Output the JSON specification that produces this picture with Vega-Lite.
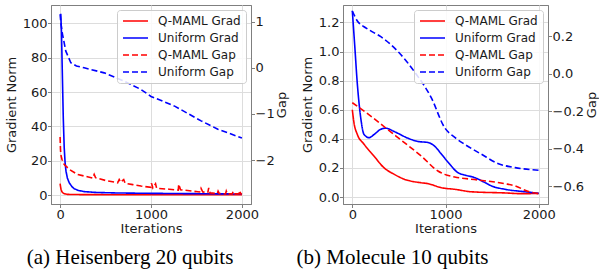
{
  "$schema": "https://vega.github.io/schema/vega-lite/v6.json",
  "padding": {"left": 4, "top": 4, "right": 0, "bottom": 0},
  "background": "white",
  "config": {
    "font": "DejaVu Sans",
    "view": {"stroke": "#7f7f7f", "strokeWidth": 1},
    "axis": {"domainColor": "#7f7f7f", "tickColor": "#7f7f7f", "labelColor": "#1a1a1a", "titleColor": "#1a1a1a", "labelFontSize": 13, "titleFontSize": 13, "titleFontWeight": "normal", "gridColor": "#dddddd", "tickSize": 3.5, "labelPadding": 0.5, "titlePadding": 4},
    "axisX": {"titlePadding": 1},
    "legend": {"orient": "top-right", "offset": 5, "fillColor": "rgba(255,255,255,0.85)", "strokeColor": "#cccccc", "cornerRadius": 3, "padding": 5, "labelFontSize": 12, "labelColor": "#1a1a1a", "symbolType": "M-1,0H4", "symbolSize": 100, "symbolStrokeWidth": 1.8, "labelOffset": 24, "rowPadding": 5},
    "line": {"strokeWidth": 1.6}
  },
  "datasets": {
    "a_grad": [
      {"series": "Q-MAML Grad", "iter": 0, "value": 6.7},
      {"series": "Q-MAML Grad", "iter": 5, "value": 5},
      {"series": "Q-MAML Grad", "iter": 10, "value": 3.5},
      {"series": "Q-MAML Grad", "iter": 20, "value": 2},
      {"series": "Q-MAML Grad", "iter": 35, "value": 1.2},
      {"series": "Q-MAML Grad", "iter": 50, "value": 0.8},
      {"series": "Q-MAML Grad", "iter": 80, "value": 0.5},
      {"series": "Q-MAML Grad", "iter": 150, "value": 0.4},
      {"series": "Q-MAML Grad", "iter": 300, "value": 0.35},
      {"series": "Q-MAML Grad", "iter": 600, "value": 0.3},
      {"series": "Q-MAML Grad", "iter": 1000, "value": 0.3},
      {"series": "Q-MAML Grad", "iter": 1500, "value": 0.3},
      {"series": "Q-MAML Grad", "iter": 2000, "value": 0.3},
      {"series": "Uniform Grad", "iter": 0, "value": 105},
      {"series": "Uniform Grad", "iter": 8, "value": 105},
      {"series": "Uniform Grad", "iter": 15, "value": 95},
      {"series": "Uniform Grad", "iter": 25, "value": 70},
      {"series": "Uniform Grad", "iter": 35, "value": 45},
      {"series": "Uniform Grad", "iter": 45, "value": 28},
      {"series": "Uniform Grad", "iter": 55, "value": 19},
      {"series": "Uniform Grad", "iter": 65, "value": 14},
      {"series": "Uniform Grad", "iter": 80, "value": 10},
      {"series": "Uniform Grad", "iter": 100, "value": 7.3},
      {"series": "Uniform Grad", "iter": 130, "value": 5},
      {"series": "Uniform Grad", "iter": 155, "value": 3.8},
      {"series": "Uniform Grad", "iter": 200, "value": 2.8},
      {"series": "Uniform Grad", "iter": 265, "value": 2.1},
      {"series": "Uniform Grad", "iter": 400, "value": 1.6},
      {"series": "Uniform Grad", "iter": 632, "value": 1.3},
      {"series": "Uniform Grad", "iter": 1000, "value": 1.1},
      {"series": "Uniform Grad", "iter": 1500, "value": 0.9},
      {"series": "Uniform Grad", "iter": 2000, "value": 0.7}
    ],
    "a_gap": [
      {"series": "Q-MAML Gap", "iter": 0, "value": -1.5},
      {"series": "Q-MAML Gap", "iter": 4, "value": -1.75},
      {"series": "Q-MAML Gap", "iter": 8, "value": -1.88},
      {"series": "Q-MAML Gap", "iter": 20, "value": -1.98},
      {"series": "Q-MAML Gap", "iter": 44, "value": -2.09},
      {"series": "Q-MAML Gap", "iter": 100, "value": -2.2},
      {"series": "Q-MAML Gap", "iter": 192, "value": -2.31},
      {"series": "Q-MAML Gap", "iter": 300, "value": -2.36},
      {"series": "Q-MAML Gap", "iter": 360, "value": -2.39},
      {"series": "Q-MAML Gap", "iter": 375, "value": -2.31},
      {"series": "Q-MAML Gap", "iter": 390, "value": -2.38},
      {"series": "Q-MAML Gap", "iter": 500, "value": -2.44},
      {"series": "Q-MAML Gap", "iter": 633, "value": -2.49},
      {"series": "Q-MAML Gap", "iter": 650, "value": -2.42},
      {"series": "Q-MAML Gap", "iter": 665, "value": -2.48},
      {"series": "Q-MAML Gap", "iter": 700, "value": -2.42},
      {"series": "Q-MAML Gap", "iter": 715, "value": -2.5},
      {"series": "Q-MAML Gap", "iter": 800, "value": -2.53},
      {"series": "Q-MAML Gap", "iter": 890, "value": -2.56},
      {"series": "Q-MAML Gap", "iter": 1000, "value": -2.59},
      {"series": "Q-MAML Gap", "iter": 1005, "value": -2.5},
      {"series": "Q-MAML Gap", "iter": 1020, "value": -2.6},
      {"series": "Q-MAML Gap", "iter": 1050, "value": -2.51},
      {"series": "Q-MAML Gap", "iter": 1062, "value": -2.61},
      {"series": "Q-MAML Gap", "iter": 1200, "value": -2.63},
      {"series": "Q-MAML Gap", "iter": 1300, "value": -2.65},
      {"series": "Q-MAML Gap", "iter": 1305, "value": -2.52},
      {"series": "Q-MAML Gap", "iter": 1325, "value": -2.64},
      {"series": "Q-MAML Gap", "iter": 1450, "value": -2.67},
      {"series": "Q-MAML Gap", "iter": 1535, "value": -2.69},
      {"series": "Q-MAML Gap", "iter": 1550, "value": -2.61},
      {"series": "Q-MAML Gap", "iter": 1570, "value": -2.69},
      {"series": "Q-MAML Gap", "iter": 1625, "value": -2.7},
      {"series": "Q-MAML Gap", "iter": 1635, "value": -2.6},
      {"series": "Q-MAML Gap", "iter": 1650, "value": -2.71},
      {"series": "Q-MAML Gap", "iter": 1730, "value": -2.72},
      {"series": "Q-MAML Gap", "iter": 1738, "value": -2.67},
      {"series": "Q-MAML Gap", "iter": 1750, "value": -2.72},
      {"series": "Q-MAML Gap", "iter": 1820, "value": -2.73},
      {"series": "Q-MAML Gap", "iter": 1828, "value": -2.67},
      {"series": "Q-MAML Gap", "iter": 1840, "value": -2.73},
      {"series": "Q-MAML Gap", "iter": 1895, "value": -2.73},
      {"series": "Q-MAML Gap", "iter": 1902, "value": -2.68},
      {"series": "Q-MAML Gap", "iter": 1915, "value": -2.73},
      {"series": "Q-MAML Gap", "iter": 1968, "value": -2.73},
      {"series": "Q-MAML Gap", "iter": 1975, "value": -2.66},
      {"series": "Q-MAML Gap", "iter": 1988, "value": -2.73},
      {"series": "Q-MAML Gap", "iter": 2000, "value": -2.74},
      {"series": "Uniform Gap", "iter": 0, "value": 1.16},
      {"series": "Uniform Gap", "iter": 10, "value": 0.95},
      {"series": "Uniform Gap", "iter": 26, "value": 0.73},
      {"series": "Uniform Gap", "iter": 63, "value": 0.36},
      {"series": "Uniform Gap", "iter": 118, "value": 0.11},
      {"series": "Uniform Gap", "iter": 180, "value": 0.04},
      {"series": "Uniform Gap", "iter": 265, "value": 0.0},
      {"series": "Uniform Gap", "iter": 485, "value": -0.11},
      {"series": "Uniform Gap", "iter": 706, "value": -0.29},
      {"series": "Uniform Gap", "iter": 890, "value": -0.47},
      {"series": "Uniform Gap", "iter": 1000, "value": -0.62},
      {"series": "Uniform Gap", "iter": 1260, "value": -0.83},
      {"series": "Uniform Gap", "iter": 1551, "value": -1.15},
      {"series": "Uniform Gap", "iter": 1735, "value": -1.33},
      {"series": "Uniform Gap", "iter": 2000, "value": -1.52}
    ],
    "b_grad": [
      {"series": "Q-MAML Grad", "iter": 0, "value": 0.6},
      {"series": "Q-MAML Grad", "iter": 18, "value": 0.51},
      {"series": "Q-MAML Grad", "iter": 54, "value": 0.43},
      {"series": "Q-MAML Grad", "iter": 126, "value": 0.363},
      {"series": "Q-MAML Grad", "iter": 234, "value": 0.28},
      {"series": "Q-MAML Grad", "iter": 342, "value": 0.2},
      {"series": "Q-MAML Grad", "iter": 450, "value": 0.156},
      {"series": "Q-MAML Grad", "iter": 559, "value": 0.122},
      {"series": "Q-MAML Grad", "iter": 739, "value": 0.098},
      {"series": "Q-MAML Grad", "iter": 811, "value": 0.092},
      {"series": "Q-MAML Grad", "iter": 955, "value": 0.064},
      {"series": "Q-MAML Grad", "iter": 1099, "value": 0.053},
      {"series": "Q-MAML Grad", "iter": 1279, "value": 0.036},
      {"series": "Q-MAML Grad", "iter": 1640, "value": 0.028},
      {"series": "Q-MAML Grad", "iter": 1820, "value": 0.023},
      {"series": "Q-MAML Grad", "iter": 2000, "value": 0.025},
      {"series": "Uniform Grad", "iter": 0, "value": 1.28},
      {"series": "Uniform Grad", "iter": 25, "value": 1.05},
      {"series": "Uniform Grad", "iter": 54, "value": 0.776},
      {"series": "Uniform Grad", "iter": 90, "value": 0.546},
      {"series": "Uniform Grad", "iter": 126, "value": 0.43},
      {"series": "Uniform Grad", "iter": 180, "value": 0.408},
      {"series": "Uniform Grad", "iter": 234, "value": 0.43},
      {"series": "Uniform Grad", "iter": 306, "value": 0.466},
      {"series": "Uniform Grad", "iter": 360, "value": 0.473},
      {"series": "Uniform Grad", "iter": 450, "value": 0.45},
      {"series": "Uniform Grad", "iter": 595, "value": 0.405},
      {"series": "Uniform Grad", "iter": 703, "value": 0.382},
      {"series": "Uniform Grad", "iter": 811, "value": 0.375},
      {"series": "Uniform Grad", "iter": 883, "value": 0.35},
      {"series": "Uniform Grad", "iter": 950, "value": 0.3},
      {"series": "Uniform Grad", "iter": 1027, "value": 0.24},
      {"series": "Uniform Grad", "iter": 1135, "value": 0.167},
      {"series": "Uniform Grad", "iter": 1207, "value": 0.151},
      {"series": "Uniform Grad", "iter": 1315, "value": 0.133},
      {"series": "Uniform Grad", "iter": 1424, "value": 0.099},
      {"series": "Uniform Grad", "iter": 1495, "value": 0.076},
      {"series": "Uniform Grad", "iter": 1640, "value": 0.053},
      {"series": "Uniform Grad", "iter": 1856, "value": 0.036},
      {"series": "Uniform Grad", "iter": 2000, "value": 0.025}
    ],
    "b_gap": [
      {"series": "Q-MAML Gap", "iter": 0, "value": -0.155},
      {"series": "Q-MAML Gap", "iter": 198, "value": -0.226},
      {"series": "Q-MAML Gap", "iter": 378, "value": -0.297},
      {"series": "Q-MAML Gap", "iter": 559, "value": -0.368},
      {"series": "Q-MAML Gap", "iter": 739, "value": -0.439},
      {"series": "Q-MAML Gap", "iter": 919, "value": -0.519},
      {"series": "Q-MAML Gap", "iter": 991, "value": -0.537},
      {"series": "Q-MAML Gap", "iter": 1099, "value": -0.551},
      {"series": "Q-MAML Gap", "iter": 1351, "value": -0.567},
      {"series": "Q-MAML Gap", "iter": 1640, "value": -0.587},
      {"series": "Q-MAML Gap", "iter": 1748, "value": -0.599},
      {"series": "Q-MAML Gap", "iter": 1892, "value": -0.629},
      {"series": "Q-MAML Gap", "iter": 2000, "value": -0.64},
      {"series": "Uniform Gap", "iter": 0, "value": 0.334},
      {"series": "Uniform Gap", "iter": 54, "value": 0.281},
      {"series": "Uniform Gap", "iter": 126, "value": 0.25},
      {"series": "Uniform Gap", "iter": 198, "value": 0.228},
      {"series": "Uniform Gap", "iter": 306, "value": 0.197},
      {"series": "Uniform Gap", "iter": 486, "value": 0.12},
      {"series": "Uniform Gap", "iter": 667, "value": 0.01},
      {"series": "Uniform Gap", "iter": 847, "value": -0.128},
      {"series": "Uniform Gap", "iter": 991, "value": -0.288},
      {"series": "Uniform Gap", "iter": 1100, "value": -0.34},
      {"series": "Uniform Gap", "iter": 1207, "value": -0.377},
      {"series": "Uniform Gap", "iter": 1387, "value": -0.43},
      {"series": "Uniform Gap", "iter": 1568, "value": -0.48},
      {"series": "Uniform Gap", "iter": 1748, "value": -0.501},
      {"series": "Uniform Gap", "iter": 2000, "value": -0.515}
    ]
  },
  "spacing": 7,
  "resolve": {"scale": {"color": "independent", "strokeDash": "independent"}, "legend": {"color": "independent", "strokeDash": "independent"}},
  "hconcat": [
    {
      "width": 200,
      "height": 199,
      "title": {"text": "(a) Heisenberg 20 qubits", "orient": "bottom", "frame": "group", "anchor": "middle", "dx": -21, "offset": 12, "font": "Liberation Serif", "fontSize": 21, "fontWeight": "normal", "color": "#000000"},
      "resolve": {"scale": {"y": "independent"}},
      "layer": [
        {
          "data": {"name": "a_grad"},
          "mark": {"type": "line"},
          "encoding": {
            "x": {"field": "iter", "type": "quantitative", "scale": {"domain": [-100, 2100], "nice": false}, "axis": {"values": [0, 1000, 2000], "format": "d", "title": "Iterations", "grid": true}},
            "y": {"field": "value", "type": "quantitative", "scale": {"domain": [-5.1, 110.6], "nice": false, "zero": false}, "axis": {"values": [0, 20, 40, 60, 80, 100], "title": "Gradient Norm", "grid": true}},
            "color": {"field": "series", "type": "nominal", "scale": {"domain": ["Q-MAML Grad", "Uniform Grad", "Q-MAML Gap", "Uniform Gap"], "range": ["#ff0000", "#0000ff", "#ff0000", "#0000ff"]}, "legend": {"title": null}},
            "strokeDash": {"field": "series", "type": "nominal", "scale": {"domain": ["Q-MAML Grad", "Uniform Grad", "Q-MAML Gap", "Uniform Gap"], "range": [[1, 0], [1, 0], [6, 3], [6, 3]]}, "legend": {"title": null}}
          }
        },
        {
          "data": {"name": "a_gap"},
          "mark": {"type": "line"},
          "encoding": {
            "x": {"field": "iter", "type": "quantitative", "scale": {"domain": [-100, 2100], "nice": false}, "axis": {"values": [0, 1000, 2000], "format": "d", "title": "Iterations", "grid": true}},
            "y": {"field": "value", "type": "quantitative", "scale": {"domain": [-2.95, 1.36], "nice": false, "zero": false}, "axis": {"orient": "right", "values": [1, 0, -1, -2], "title": "Gap", "grid": false, "titleAngle": 270, "titleX": 30, "titleY": 99.5, "titleAlign": "center", "titleBaseline": "middle"}},
            "color": {"field": "series", "type": "nominal", "scale": {"domain": ["Q-MAML Grad", "Uniform Grad", "Q-MAML Gap", "Uniform Gap"], "range": ["#ff0000", "#0000ff", "#ff0000", "#0000ff"]}, "legend": {"title": null}},
            "strokeDash": {"field": "series", "type": "nominal", "scale": {"domain": ["Q-MAML Grad", "Uniform Grad", "Q-MAML Gap", "Uniform Gap"], "range": [[1, 0], [1, 0], [6, 3], [6, 3]]}, "legend": {"title": null}}
          }
        }
      ]
    },
    {
      "width": 205,
      "height": 199,
      "title": {"text": "(b) Molecule 10 qubits", "orient": "bottom", "frame": "group", "anchor": "middle", "dx": -53, "offset": 12, "font": "Liberation Serif", "fontSize": 21, "fontWeight": "normal", "color": "#000000"},
      "resolve": {"scale": {"y": "independent"}},
      "layer": [
        {
          "data": {"name": "b_grad"},
          "mark": {"type": "line", "interpolate": "monotone"},
          "encoding": {
            "x": {"field": "iter", "type": "quantitative", "scale": {"domain": [-100, 2100], "nice": false}, "axis": {"values": [0, 1000, 2000], "format": "d", "title": "Iterations", "grid": true}},
            "y": {"field": "value", "type": "quantitative", "scale": {"domain": [-0.048, 1.32], "nice": false, "zero": false}, "axis": {"values": [0, 0.2, 0.4, 0.6, 0.8, 1.0, 1.2], "format": ".1f", "title": "Gradient Norm", "grid": true}},
            "color": {"field": "series", "type": "nominal", "scale": {"domain": ["Q-MAML Grad", "Uniform Grad", "Q-MAML Gap", "Uniform Gap"], "range": ["#ff0000", "#0000ff", "#ff0000", "#0000ff"]}, "legend": {"title": null}},
            "strokeDash": {"field": "series", "type": "nominal", "scale": {"domain": ["Q-MAML Grad", "Uniform Grad", "Q-MAML Gap", "Uniform Gap"], "range": [[1, 0], [1, 0], [6, 3], [6, 3]]}, "legend": {"title": null}}
          }
        },
        {
          "data": {"name": "b_gap"},
          "mark": {"type": "line", "interpolate": "monotone"},
          "encoding": {
            "x": {"field": "iter", "type": "quantitative", "scale": {"domain": [-100, 2100], "nice": false}, "axis": {"values": [0, 1000, 2000], "format": "d", "title": "Iterations", "grid": true}},
            "y": {"field": "value", "type": "quantitative", "scale": {"domain": [-0.695, 0.366], "nice": false, "zero": false}, "axis": {"orient": "right", "values": [0.2, 0.0, -0.2, -0.4, -0.6], "format": ".1f", "title": "Gap", "grid": false, "titleAngle": 270, "titleX": 43, "titleY": 99.5, "titleAlign": "center", "titleBaseline": "middle"}},
            "color": {"field": "series", "type": "nominal", "scale": {"domain": ["Q-MAML Grad", "Uniform Grad", "Q-MAML Gap", "Uniform Gap"], "range": ["#ff0000", "#0000ff", "#ff0000", "#0000ff"]}, "legend": {"title": null}},
            "strokeDash": {"field": "series", "type": "nominal", "scale": {"domain": ["Q-MAML Grad", "Uniform Grad", "Q-MAML Gap", "Uniform Gap"], "range": [[1, 0], [1, 0], [6, 3], [6, 3]]}, "legend": {"title": null}}
          }
        }
      ]
    }
  ]
}
